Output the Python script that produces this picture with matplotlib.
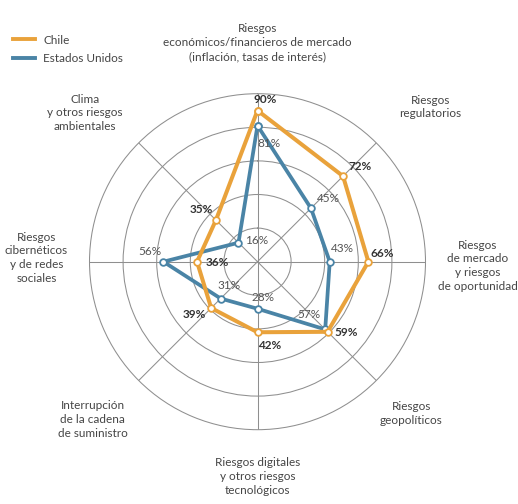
import matplotlib
matplotlib.use("Agg")
import matplotlib.pyplot as plt
import numpy as np
from matplotlib.lines import Line2D

plt.rcParams['font.family'] = ['Lato', 'DejaVu Sans']

# categories clockwise from the top
categories = [
    "Riesgos\neconómicos/financieros de mercado\n(inflación, tasas de interés)",
    "Riesgos\nregulatorios",
    "Riesgos\nde mercado\ny riesgos\nde oportunidad",
    "Riesgos\ngeopolíticos",
    "Riesgos digitales\ny otros riesgos\ntecnológicos",
    "Interrupción\nde la cadena\nde suministro",
    "Riesgos\ncibernéticos\ny de redes\nsociales",
    "Clima\ny otros riesgos\nambientales",
]
chile = [90, 72, 66, 59, 42, 39, 36, 35]
usa = [81, 45, 43, 57, 28, 31, 56, 16]

CHILE_COL = "#E9A23B"
USA_COL = "#4A84A6"
GRID_COL = "#8f8f8f"
TXT = "#454545"

W, H = 518, 504
fig = plt.figure(figsize=(W / 100, H / 100), dpi=100)
cx, cy, r = 257.5, 261.7, 168
ax = fig.add_axes([(cx - r) / W, (H - cy - r) / H, 2 * r / W, 2 * r / H], projection='polar')
ax.set_theta_zero_location('N')
ax.set_theta_direction(-1)
ax.set_ylim(0, 100)

angles = np.linspace(0, 2 * np.pi, len(categories), endpoint=False)
ax.set_xticks(angles)
ax.set_xticklabels([])
ax.set_yticks([20, 40, 60, 80])
ax.set_yticklabels([])
ax.grid(color=GRID_COL, linewidth=0.75)
ax.spines['polar'].set_color(GRID_COL)
ax.spines['polar'].set_linewidth(0.75)

a_closed = np.append(angles, angles[0])
ax.plot(a_closed, usa + usa[:1], color=USA_COL, lw=2.7, marker='o', ms=4.8,
        mfc='white', mec=USA_COL, mew=1.3, zorder=3)
ax.plot(a_closed, chile + chile[:1], color=CHILE_COL, lw=2.9, marker='o', ms=4.8,
        mfc='white', mec=CHILE_COL, mew=1.3, zorder=4)

# value label offsets (pixels)
chile_off = [(8, 11), (17, 10), (14, 8), (19, -1), (12, -13), (-17, -6), (20, -1), (-15, 11)]
usa_off = [(11, -18), (17, 10), (13, 13), (-16, 15), (6, 11), (8, 13), (-14, 10), (18, 2)]
for a, v, off in zip(angles, chile, chile_off):
    ax.annotate(f"{v}%", (a, v), xytext=off, textcoords='offset pixels', ha='center',
                va='center', fontsize=8.5, fontweight='bold', color="#333333", zorder=5)
for a, v, off in zip(angles, usa, usa_off):
    ax.annotate(f"{v}%", (a, v), xytext=off, textcoords='offset pixels', ha='center',
                va='center', fontsize=8.5, color="#555555", zorder=5)

# category labels
cat_off = [(0, 51), (54, 36), (52, -4), (35, -33), (0, -47), (-46, -39), (-53, 4), (-54, 30)]
for a, lab, off in zip(angles, categories, cat_off):
    ax.annotate(lab, (a, 100), xytext=off, textcoords='offset pixels', ha='center',
                va='center', fontsize=8.5, color=TXT, linespacing=1.3, annotation_clip=False)

handles = [Line2D([], [], color=CHILE_COL, lw=2.8), Line2D([], [], color=USA_COL, lw=2.8)]
fig.legend(handles, ["Chile", "Estados Unidos"], loc='upper left',
           bbox_to_anchor=(2 / W, 1 - 24 / H), frameon=False, fontsize=8.5,
           handlelength=1.9, handletextpad=0.7, labelspacing=0.6, labelcolor=TXT)

fig.savefig("out.png", dpi=100)
